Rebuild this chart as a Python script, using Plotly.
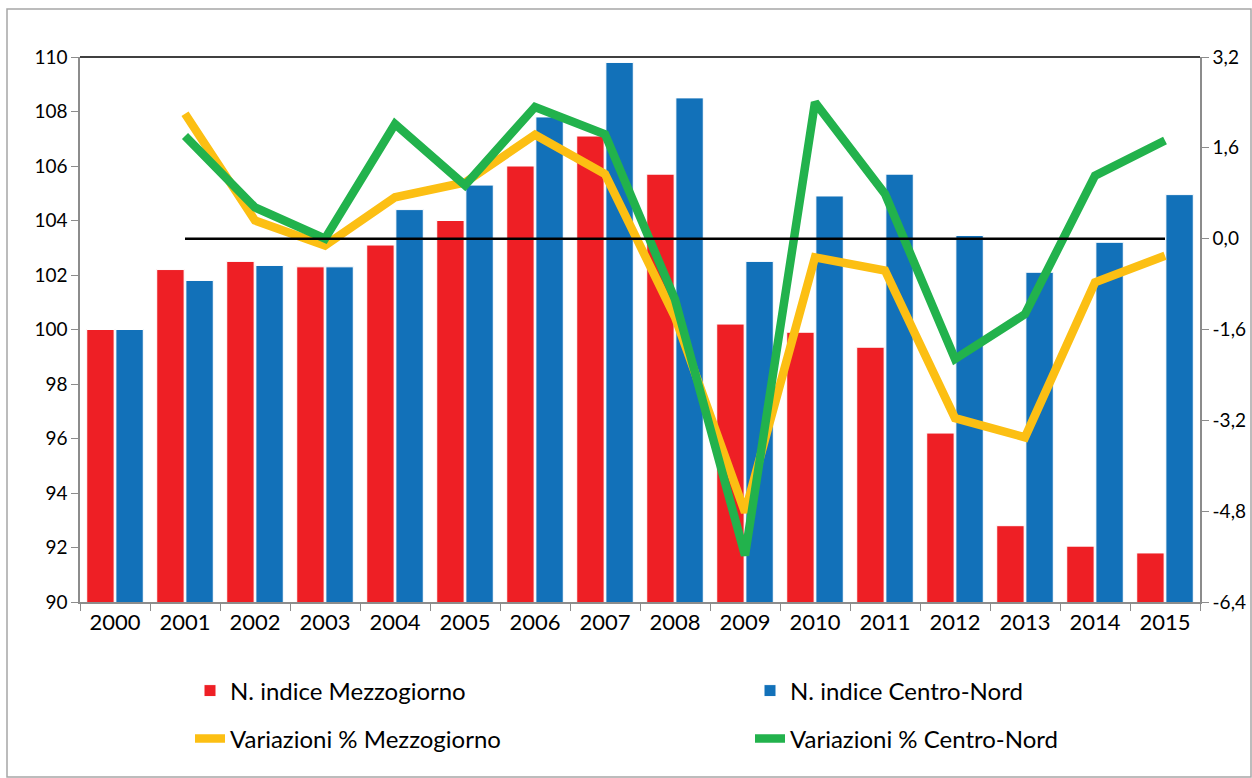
import plotly.graph_objects as go

years = ["2000", "2001", "2002", "2003", "2004", "2005", "2006", "2007",
         "2008", "2009", "2010", "2011", "2012", "2013", "2014", "2015"]

indice_mezzogiorno = [100.0, 102.2, 102.5, 102.3, 103.1, 104.0, 106.0, 107.1,
                      105.7, 100.2, 99.9, 99.35, 96.2, 92.8, 92.05, 91.8]
indice_centro_nord = [100.0, 101.8, 102.35, 102.3, 104.4, 105.3, 107.8, 109.8,
                      108.5, 102.5, 104.9, 105.7, 103.45, 102.1, 103.2, 104.95]

var_years = years[1:]
var_mezzogiorno = [2.2, 0.32, -0.12, 0.73, 0.99, 1.83, 1.14, -1.38,
                   -4.82, -0.33, -0.56, -3.16, -3.5, -0.77, -0.3]
var_centro_nord = [1.81, 0.55, 0.0, 2.02, 0.94, 2.32, 1.84, -1.07,
                   -5.58, 2.4, 0.79, -2.12, -1.33, 1.11, 1.73]

left_ticks = [90, 92, 94, 96, 98, 100, 102, 104, 106, 108, 110]
right_tickvals = [3.2, 1.6, 0.0, -1.6, -3.2, -4.8, -6.4]
right_ticktext = ["3,2", "1,6", "0,0", "-1,6", "-3,2", "-4,8", "-6,4"]

RED = "#EE1F25"
BLUE = "#1271B9"
YELLOW = "#FCBF13"
GREEN = "#22B24C"
AXIS_GREY = "#8C8C8C"
FONT = "Lato"

fig = go.Figure()

fig.add_trace(go.Bar(
    x=years, y=indice_mezzogiorno, name="N. indice Mezzogiorno",
    marker=dict(color=RED, line=dict(color="white", width=1)),
    legend="legend", yaxis="y",
))
fig.add_trace(go.Bar(
    x=years, y=indice_centro_nord, name="N. indice Centro-Nord",
    marker=dict(color=BLUE, line=dict(color="white", width=1)),
    legend="legend", yaxis="y",
))
fig.add_trace(go.Scatter(
    x=var_years, y=var_mezzogiorno, name="Variazioni % Mezzogiorno",
    mode="lines", line=dict(color=YELLOW, width=8.5),
    legend="legend2", yaxis="y2",
))
fig.add_trace(go.Scatter(
    x=var_years, y=var_centro_nord, name="Variazioni % Centro-Nord",
    mode="lines", line=dict(color=GREEN, width=8.5),
    legend="legend2", yaxis="y2",
))
fig.add_trace(go.Scatter(
    x=[var_years[0], var_years[-1]], y=[0, 0],
    mode="lines", line=dict(color="black", width=2.5),
    showlegend=False, hoverinfo="skip", yaxis="y2",
))

# plot area geometry in pixels
L, R, T, B = 80, 52, 57, 176
W, H = 1252 - L - R, 778 - T - B

def px_x(px):
    return (px - L) / W

def px_y(py):
    return (778 - B - py) / H

legend_common = dict(
    orientation="h", xanchor="left", yanchor="middle",
    entrywidth=515, entrywidthmode="pixels",
    font=dict(size=24, family=FONT), bgcolor="rgba(0,0,0,0)",
    traceorder="normal",
)

fig.update_layout(
    width=1252, height=778,
    margin=dict(l=L, r=R, t=T, b=B, autoexpand=False),
    paper_bgcolor="white", plot_bgcolor="white",
    font=dict(family=FONT, color="black", size=19),
    barmode="group", bargap=0.167, bargroupgap=0.06,
    xaxis=dict(
        type="category", showgrid=False, showline=True, linecolor=AXIS_GREY,
        linewidth=1.5, ticks="outside", tickson="boundaries", ticklen=7,
        tickcolor=AXIS_GREY, tickfont=dict(size=22, family=FONT),
        zeroline=False, automargin=False,
    ),
    yaxis=dict(
        range=[90, 110], tickvals=left_ticks, showgrid=False, showline=True,
        linecolor=AXIS_GREY, linewidth=1.5, ticks="outside", ticklen=7,
        tickcolor=AXIS_GREY, tickfont=dict(size=19, family=FONT),
        zeroline=False, automargin=False,
    ),
    yaxis2=dict(
        range=[-6.4, 3.2], tickvals=right_tickvals, ticktext=right_ticktext,
        overlaying="y", side="right", showgrid=False, showline=True,
        linecolor=AXIS_GREY, linewidth=1.5, ticks="outside", ticklen=7,
        tickcolor=AXIS_GREY, tickfont=dict(size=19, family=FONT),
        zeroline=False, automargin=False,
    ),
    legend=dict(x=px_x(190), y=px_y(691), **legend_common),
    legend2=dict(x=px_x(190), y=px_y(739), **legend_common),
    showlegend=True,
    shapes=[
        dict(type="line", xref="paper", yref="paper", x0=0, x1=1, y0=1, y1=1,
             line=dict(color="black", width=1.5)),
        dict(type="rect", xref="paper", yref="paper",
             x0=px_x(7), x1=px_x(1251), y0=px_y(9), y1=px_y(777),
             line=dict(color="#A6A6A6", width=1.5), layer="below"),
    ],
)

fig.write_html(
    "out.html",
    config={"displayModeBar": False},
    post_script="document.body.style.margin='0';document.body.style.overflow='hidden';",
)
